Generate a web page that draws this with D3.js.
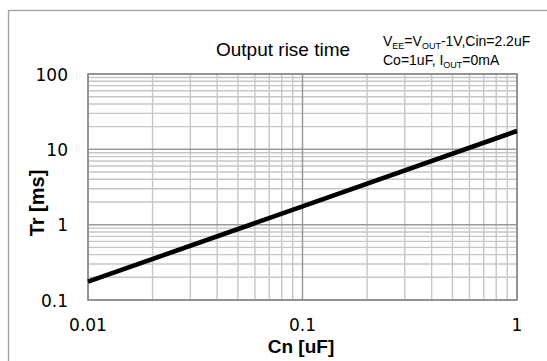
<!DOCTYPE html>
<html><head><meta charset="utf-8">
<script src="https://cdn.jsdelivr.net/npm/d3@7"></script>
<style>body{margin:0;background:#fff}svg{display:block}</style>
</head><body>
<script>
const cn = [0.01, 0.1, 1];
const tr = [0.175, 1.75, 17.5];
const xTicks = [0.01, 0.1, 1];
const xTickLabels = ["0.01", "0.1", "1"];
const yTicks = [0.1, 1, 10, 100];
const yTickLabels = ["0.1", "1", "10", "100"];
const title = "Output rise time";
const xTitle = "Cn [uF]";
const yTitle = "Tr [ms]";

const W = 547, H = 361;
const svg = d3.select("body").append("svg").attr("width", W).attr("height", H);
const x = d3.scaleLog().domain([0.01, 1]).range([88, 517]);
const y = d3.scaleLog().domain([0.1, 100]).range([300, 74]);

// outer chart border
svg.append("rect").attr("x", 8.5).attr("y", 10.5).attr("width", 560).attr("height", 400)
  .attr("fill", "none").attr("stroke", "#a0a0a0").attr("stroke-width", 1.3);

// minor gridlines
const minorX = [], minorY = [];
for (let d = 0.01; d < 1; d *= 10) for (let k = 2; k <= 9; k++) minorX.push(d * k);
for (let d = 0.1; d < 100; d *= 10) for (let k = 2; k <= 9; k++) minorY.push(d * k);
const g = svg.append("g");
g.selectAll(".mx").data(minorX).join("line")
  .attr("x1", d => x(d)).attr("x2", d => x(d)).attr("y1", y(0.1)).attr("y2", y(100))
  .attr("stroke", "#c6c6c6").attr("stroke-width", 1.4);
g.selectAll(".my").data(minorY).join("line")
  .attr("y1", d => y(d)).attr("y2", d => y(d)).attr("x1", x(0.01)).attr("x2", x(1))
  .attr("stroke", "#c6c6c6").attr("stroke-width", 1.4);
// major gridlines
g.selectAll(".Mx").data(xTicks).join("line")
  .attr("x1", d => x(d)).attr("x2", d => x(d)).attr("y1", y(0.1)).attr("y2", y(100))
  .attr("stroke", "#9a9a9a").attr("stroke-width", 1.5);
g.selectAll(".My").data(yTicks).join("line")
  .attr("y1", d => y(d)).attr("y2", d => y(d)).attr("x1", x(0.01)).attr("x2", x(1))
  .attr("stroke", "#9a9a9a").attr("stroke-width", 1.5);
// plot border
svg.append("rect").attr("x", x(0.01)).attr("y", y(100))
  .attr("width", x(1) - x(0.01)).attr("height", y(0.1) - y(100))
  .attr("fill", "none").attr("stroke", "#8c8c8c").attr("stroke-width", 1.6);

// data line
svg.append("path").datum(cn.map((c, i) => [c, tr[i]]))
  .attr("d", d3.line().x(d => x(d[0])).y(d => y(d[1])))
  .attr("fill", "none").attr("stroke", "#000").attr("stroke-width", 4.6);

// tick labels
svg.selectAll(".xl").data(xTicks).join("text")
  .attr("x", d => x(d)).attr("y", 331).attr("text-anchor", "middle")
  .attr("font-family", "DejaVu Sans").attr("font-size", 17).attr("fill", "#000")
  .text((d, i) => xTickLabels[i]);
svg.selectAll(".yl").data(yTicks).join("text")
  .attr("x", 68).attr("y", d => y(d) + 6.5).attr("text-anchor", "end")
  .attr("font-family", "DejaVu Sans").attr("font-size", 17).attr("fill", "#000")
  .text((d, i) => yTickLabels[i]);

// axis titles
svg.append("text").attr("x", 301).attr("y", 353).attr("text-anchor", "middle")
  .attr("font-family", "Liberation Sans, Arial").attr("font-weight", "bold").attr("font-size", 19)
  .text(xTitle);
svg.append("text").attr("transform", "translate(44,203) rotate(-90)").attr("text-anchor", "middle")
  .attr("font-family", "Liberation Sans, Arial").attr("font-weight", "bold").attr("font-size", 20)
  .text(yTitle);

// chart title
svg.append("text").attr("x", 216).attr("y", 56)
  .attr("font-family", "Liberation Sans, Arial").attr("font-size", 19).text(title);

// annotation with subscripts
const ann = svg.append("g").attr("font-family", "Liberation Sans, Arial").attr("font-size", 14);
const l1 = ann.append("text").attr("x", 383).attr("y", 46);
const sub = (t, s) => t.append("tspan").attr("font-size", 9).attr("dy", 3).text(s);
const main = (t, s) => t.append("tspan").attr("font-size", 14).attr("dy", -3).text(s);
l1.append("tspan").text("V");
sub(l1, "EE"); main(l1, "=V"); sub(l1, "OUT"); main(l1, "-1V,Cin=2.2uF");
const l2 = ann.append("text").attr("x", 383).attr("y", 65);
l2.append("tspan").text("Co=1uF, I");
sub(l2, "OUT"); main(l2, "=0mA");
</script>
</body></html>
